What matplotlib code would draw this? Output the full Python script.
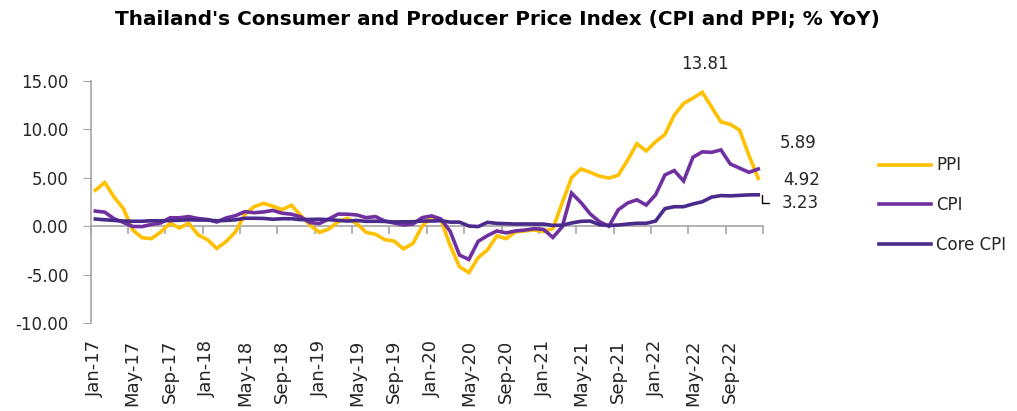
import matplotlib
matplotlib.use("Agg")
import matplotlib.pyplot as plt
import numpy as np

plt.rcParams['font.family'] = ['DejaVu Sans']

# monthly data Jan-17 .. Dec-22 (% YoY)
months = [f"{m}-{y}" for y in range(17, 23) for m in
          ["Jan", "Feb", "Mar", "Apr", "May", "Jun", "Jul", "Aug", "Sep", "Oct", "Nov", "Dec"]]

ppi = [3.7, 4.5, 3.0, 1.8, -0.4, -1.2, -1.3, -0.6, 0.3, -0.2, 0.3, -0.9,
       -1.4, -2.3, -1.6, -0.6, 1.2, 2.0, 2.35, 2.05, 1.7, 2.15, 1.1, 0.1,
       -0.65, -0.3, 0.45, 0.8, 0.25, -0.65, -0.85, -1.4, -1.55, -2.35, -1.8, 0.0,
       0.95, 0.65, -2.0, -4.2, -4.8, -3.25, -2.45, -1.0, -1.3, -0.6, -0.5, -0.4,
       -0.55, -0.25, 2.4, 5.0, 5.9, 5.55, 5.15, 4.95, 5.25, 6.8, 8.5, 7.75,
       8.7, 9.45, 11.45, 12.65, 13.2, 13.81, 12.3, 10.75, 10.5, 9.9, 7.3, 4.92]

cpi = [1.55, 1.44, 0.76, 0.38, -0.04, -0.05, 0.17, 0.32, 0.86, 0.86, 0.98, 0.78,
       0.68, 0.42, 0.84, 1.07, 1.49, 1.38, 1.46, 1.62, 1.33, 1.23, 0.94, 0.36,
       0.27, 0.73, 1.24, 1.23, 1.15, 0.87, 0.98, 0.52, 0.32, 0.11, 0.21, 0.87,
       1.05, 0.74, -0.54, -2.99, -3.44, -1.57, -0.98, -0.50, -0.70, -0.50, -0.41, -0.27,
       -0.34, -1.17, -0.08, 3.41, 2.44, 1.25, 0.45, -0.02, 1.68, 2.38, 2.71, 2.17,
       3.23, 5.28, 5.73, 4.65, 7.10, 7.66, 7.61, 7.86, 6.41, 5.98, 5.55, 5.89]

core = [0.73, 0.65, 0.59, 0.52, 0.50, 0.50, 0.55, 0.55, 0.57, 0.60, 0.65, 0.62,
        0.62, 0.55, 0.58, 0.65, 0.81, 0.81, 0.79, 0.71, 0.76, 0.76, 0.66, 0.69,
        0.71, 0.66, 0.59, 0.52, 0.58, 0.49, 0.50, 0.48, 0.43, 0.44, 0.45, 0.52,
        0.52, 0.56, 0.41, 0.41, 0.01, -0.05, 0.39, 0.28, 0.25, 0.21, 0.22, 0.21,
        0.21, 0.07, 0.09, 0.32, 0.49, 0.52, 0.14, 0.07, 0.11, 0.21, 0.29, 0.29,
        0.52, 1.80, 2.00, 2.00, 2.28, 2.51, 2.99, 3.15, 3.12, 3.17, 3.22, 3.23]

yticks = [-10, -5, 0, 5, 10, 15]

PPI_COL = '#FFC000'
CPI_COL = '#7030A0'
CORE_COL = '#4A2A8A'
GREY = '#A6A6A6'
TXT = '#262626'
FS = 12

x = np.arange(len(months))

fig = plt.figure(figsize=(10.17, 4.11), dpi=100)
ax = fig.add_axes([0.0892, 0.2141, 0.661, 0.5895])

ax.plot(x, ppi, color=PPI_COL, lw=2.6, label='PPI', solid_joinstyle='miter')
ax.plot(x, cpi, color=CPI_COL, lw=2.6, label='CPI', solid_joinstyle='miter')
ax.plot(x, core, color=CORE_COL, lw=2.6, label='Core CPI', solid_joinstyle='miter')

ax.set_xlim(-0.5, len(months) - 0.5)
ax.set_ylim(-10, 15)

# y axis
ax.set_yticks(yticks)
ax.set_yticklabels([f"{v:.2f}" for v in yticks])
ax.tick_params(axis='y', direction='out', length=6, color=GREY, labelsize=FS,
               labelcolor=TXT, pad=10)
for s in ['top', 'right', 'bottom']:
    ax.spines[s].set_visible(False)
ax.spines['left'].set_color(GREY)
ax.spines['left'].set_linewidth(1.2)

# category labels every 4 months at the bottom
ax.set_xticks([])
ax.set_xticks(x[::4], [months[i] for i in x[::4]], minor=True, rotation=90)
ax.tick_params(axis='x', which='minor', length=0, labelsize=13, labelcolor=TXT, pad=12)

# zero line with tick marks between categories
sec = ax.secondary_xaxis(0, transform=ax.transData)
sec.set_xticks(np.arange(-0.5, len(months), 4), [])
sec.tick_params(axis='x', direction='out', length=6, color=GREY, width=1.2)
sec.spines['bottom'].set_color(GREY)
sec.spines['bottom'].set_linewidth(1.2)

# data labels
ax.annotate(f"{max(ppi):.2f}", xy=(int(np.argmax(ppi)), max(ppi)), xytext=(2, 14),
            textcoords='offset points', ha='center', va='bottom', fontsize=FS, color=TXT)
ax.annotate(f"{cpi[-1]:.2f}", xy=(x[-1], cpi[-1]), xytext=(29, 19),
            textcoords='offset points', ha='center', va='center', fontsize=FS, color=TXT)
ax.annotate(f"{ppi[-1]:.2f}", xy=(x[-1], ppi[-1]), xytext=(31, -1),
            textcoords='offset points', ha='center', va='center', fontsize=FS, color=TXT)
ax.annotate(f"{core[-1]:.2f}", xy=(x[-1] + 0.45, core[-1]), xytext=(27, -6),
            textcoords='offset points', ha='center', va='center', fontsize=FS, color=TXT,
            arrowprops=dict(arrowstyle='-', color='black', lw=1,
                            connectionstyle='angle,angleA=0,angleB=90,rad=0',
                            relpos=(0, 0.5), shrinkA=7, shrinkB=0))

fig.legend(loc='center left', bbox_to_anchor=(871 / 1017, 0.501), frameon=False,
           fontsize=FS, handlelength=3.1, handletextpad=0.3, labelspacing=1.3,
           borderpad=0, labelcolor=TXT)

fig.text(497 / 1017, 1 - 20 / 411, "Thailand's Consumer and Producer Price Index (CPI and PPI; % YoY)",
         ha='center', va='center', fontsize=14.4, fontweight='bold', color='black')

fig.savefig('out.png', dpi=100)
